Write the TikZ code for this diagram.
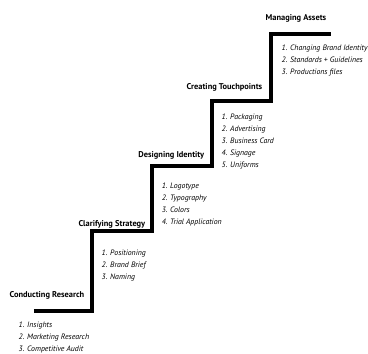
\documentclass[tikz,border=0pt]{standalone}
\usepackage{fontspec}
\setmainfont{PT Sans}
\usepackage{tikz}

\tikzset{
  steplabel/.style={font=\bfseries\fontsize{8.4}{10}\selectfont, inner sep=0pt, anchor=base east},
  steplist/.style={font=\itshape\fontsize{7.8}{12}\selectfont, align=left, inner sep=0pt, anchor=north west}
}

\begin{document}
\begin{tikzpicture}[x=1pt,y=-1pt,line width=3.5pt]
\useasboundingbox (0,0) rectangle (368,354);

\coordinate (s0) at (34,311);
\coordinate (s1) at (92,311);
\coordinate (s2) at (92,231);
\coordinate (s3) at (152,231);
\coordinate (s4) at (152,166);
\coordinate (s5) at (212,166);
\coordinate (s6) at (212,101);
\coordinate (s7) at (271,101);
\coordinate (s8) at (271,34);
\coordinate (s9) at (331,34);

\draw[line join=miter] (s0) -- (s1) -- (s2) -- (s3) -- (s4) -- (s5) -- (s6) -- (s7) -- (s8) -- (s9);

\node [steplabel] (research) at (86,297) {Conducting Research};
\node [steplabel] (strategy) at (147,226) {Clarifying Strategy};
\node [steplabel] (identity) at (206,157) {Designing Identity};
\node [steplabel] (touchpoints) at (264,89) {Creating Touchpoints};
\node [steplabel] (assets) at (328,20) {Managing Assets};

\node [steplist] (researchlist) at (17,320) {1. Insights\\2. Marketing Research\\3. Competitive Audit};
\node [steplist] (strategylist) at (100,248) {1. Positioning\\2. Brand Brief\\3. Naming};
\node [steplist] (identitylist) at (160,181) {1. Logotype\\2. Typography\\3. Colors\\4. Trial Application};
\node [steplist] (touchpointslist) at (220,112) {1. Packaging\\2. Advertising\\3. Business Card\\4. Signage\\5. Uniforms};
\node [steplist] (assetslist) at (280,43) {1. Changing Brand Identity\\2. Standards + Guidelines\\3. Productions files};
\end{tikzpicture}
\end{document}
